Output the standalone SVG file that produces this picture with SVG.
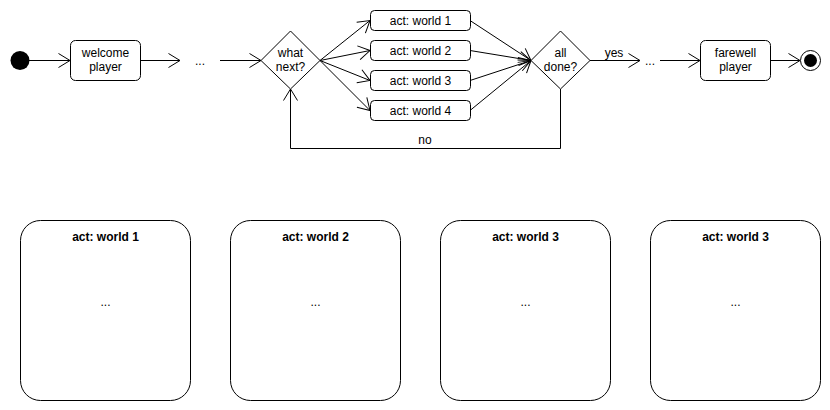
<svg xmlns="http://www.w3.org/2000/svg" width="830" height="410" viewBox="0 0 830 410">
<style>
.n{fill:#fff;stroke:#000;stroke-width:1}
.c{fill:none;stroke:#000;stroke-width:1}
text{font-family:"Liberation Sans",Arial,Helvetica,sans-serif;font-size:12px;fill:#000;text-anchor:middle}
.b{font-weight:bold}
</style>
<defs>
<marker id="arr" markerUnits="userSpaceOnUse" markerWidth="14" markerHeight="16" viewBox="0 0 14 16" refX="12.5" refY="8" orient="auto">
<path d="M1,1 L12.5,8 L1,15" fill="none" stroke="#000" stroke-width="1"/>
</marker>
</defs>
<rect width="830" height="410" fill="#fff"/>
<g id="connectors">
<line class="c" x1="29" y1="60.5" x2="70" y2="60.5" marker-end="url(#arr)"/>
<line class="c" x1="140" y1="60.5" x2="180" y2="60.5" marker-end="url(#arr)"/>
<line class="c" x1="220" y1="60.5" x2="261" y2="60.5" marker-end="url(#arr)"/>
<line class="c" x1="320" y1="60.5" x2="370" y2="20.5" marker-end="url(#arr)"/>
<line class="c" x1="320" y1="60.5" x2="370" y2="50.5" marker-end="url(#arr)"/>
<line class="c" x1="320" y1="60.5" x2="370" y2="80.5" marker-end="url(#arr)"/>
<line class="c" x1="320" y1="60.5" x2="370" y2="110.5" marker-end="url(#arr)"/>
<line class="c" x1="470" y1="20.5" x2="531" y2="60.5" marker-end="url(#arr)"/>
<line class="c" x1="470" y1="50.5" x2="531" y2="60.5" marker-end="url(#arr)"/>
<line class="c" x1="470" y1="80.5" x2="531" y2="60.5" marker-end="url(#arr)"/>
<line class="c" x1="470" y1="110.5" x2="531" y2="60.5" marker-end="url(#arr)"/>
<line class="c" x1="590" y1="60.5" x2="640" y2="60.5" marker-end="url(#arr)"/>
<text x="614" y="57">yes</text>
<line class="c" x1="660" y1="60.5" x2="700" y2="60.5" marker-end="url(#arr)"/>
<line class="c" x1="770" y1="60.5" x2="800" y2="60.5" marker-end="url(#arr)"/>
<polyline class="c" points="560.5,89 560.5,148.5 290.5,148.5 290.5,89" marker-end="url(#arr)"/>
<text x="425" y="144">no</text>
</g>
<g id="start"><circle cx="20" cy="60.5" r="9.5" fill="#000"/></g>
<g id="welcome"><rect class="n" x="70.5" y="40.5" width="70" height="40" rx="5"/><text x="105.5" y="57">welcome</text><text x="105.5" y="71">player</text></g>
<g id="dots1"><text x="200" y="64.5">...</text></g>
<g id="whatnext"><polygon class="n" points="261,60.5 290.5,31 320,60.5 290.5,89"/><text x="290.5" y="57">what</text><text x="290.5" y="71">next?</text></g>
<g id="aw1"><rect class="n" x="370.5" y="10.5" width="100" height="20" rx="4"/><text x="420.5" y="24.5">act: world 1</text></g>
<g id="aw2"><rect class="n" x="370.5" y="40.5" width="100" height="20" rx="4"/><text x="420.5" y="54.5">act: world 2</text></g>
<g id="aw3"><rect class="n" x="370.5" y="70.5" width="100" height="20" rx="4"/><text x="420.5" y="84.5">act: world 3</text></g>
<g id="aw4"><rect class="n" x="370.5" y="100.5" width="100" height="20" rx="4"/><text x="420.5" y="114.5">act: world 4</text></g>
<g id="alldone"><polygon class="n" points="531,60.5 560.5,31 590,60.5 560.5,89"/><text x="560.5" y="57">all</text><text x="560.5" y="71">done?</text></g>
<g id="dots2"><text x="650" y="64.5">...</text></g>
<g id="farewell"><rect class="n" x="700.5" y="40.5" width="70" height="40" rx="5"/><text x="735.5" y="57">farewell</text><text x="735.5" y="71">player</text></g>
<g id="end"><circle class="n" cx="810.5" cy="60.5" r="10"/><circle cx="810.5" cy="60.5" r="6.5" fill="#000"/></g>
<g id="world1"><rect class="n" x="20.5" y="220.5" width="170" height="180" rx="20"/><text class="b" x="105.5" y="241">act: world 1</text><text x="105.5" y="305.5">...</text></g>
<g id="world2"><rect class="n" x="230.5" y="220.5" width="170" height="180" rx="20"/><text class="b" x="315.5" y="241">act: world 2</text><text x="315.5" y="305.5">...</text></g>
<g id="world3"><rect class="n" x="440.5" y="220.5" width="170" height="180" rx="20"/><text class="b" x="525.5" y="241">act: world 3</text><text x="525.5" y="305.5">...</text></g>
<g id="world4"><rect class="n" x="650.5" y="220.5" width="170" height="180" rx="20"/><text class="b" x="735.5" y="241">act: world 3</text><text x="735.5" y="305.5">...</text></g>
</svg>
